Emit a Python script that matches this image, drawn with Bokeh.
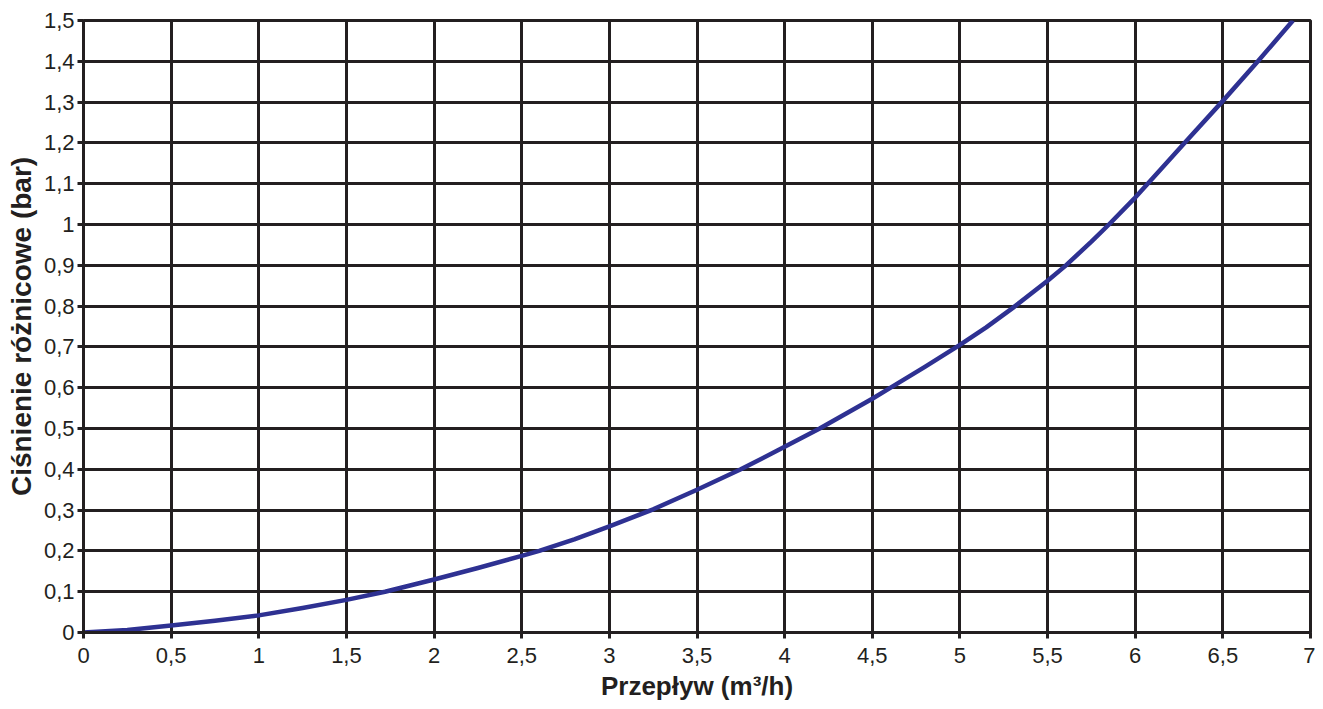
from bokeh.plotting import figure
from bokeh.models import FixedTicker, Range1d
from bokeh.embed import file_html
from bokeh.resources import INLINE

flow = [0, 0.25, 0.5, 0.75, 1, 1.25, 1.5, 1.72, 2, 2.25, 2.5, 2.6, 2.8, 3, 3.25, 3.5,
        3.75, 4, 4.2, 4.5, 4.6, 4.8, 5, 5.15, 5.3, 5.5, 5.6, 5.75, 5.85, 6, 6.15, 6.28,
        6.5, 6.7, 6.9]
pressure = [0, 0.006, 0.017, 0.029, 0.042, 0.06, 0.08, 0.1, 0.13, 0.158, 0.188, 0.2,
            0.228, 0.26, 0.302, 0.35, 0.4, 0.455, 0.5, 0.573, 0.599, 0.651, 0.705, 0.748,
            0.795, 0.862, 0.898, 0.958, 1.0, 1.066, 1.137, 1.199, 1.303, 1.4, 1.5]

x_ticks = [i * 0.5 for i in range(15)]
y_ticks = [i / 10 for i in range(16)]

def fmt(v):
    s = ("%g" % round(v, 2))
    return s.replace(".", ",")

x_labels = {t: fmt(t) for t in x_ticks}
y_labels = {t: fmt(t) for t in y_ticks}

GRID = "#231f20"
CURVE = "#2e3192"
FONT = "Liberation Sans"

p = figure(width=1315, height=704, output_backend="svg", toolbar_location=None,
           x_range=Range1d(0, 7), y_range=Range1d(0, 1.5),
           min_border_left=83, min_border_right=5, min_border_top=20, min_border_bottom=72)

p.line(flow, pressure, line_color=CURVE, line_width=4.5, line_join="round")

p.outline_line_color = GRID
p.outline_line_width = 3
p.outline_line_alpha = 1

for ax, ticks, labels in ((p.xaxis[0], x_ticks, x_labels), (p.yaxis[0], y_ticks, y_labels)):
    ax.ticker = FixedTicker(ticks=ticks)
    ax.major_label_overrides = labels
    ax.minor_tick_line_color = None
    ax.major_tick_in = 0
    ax.major_tick_out = 6
    ax.major_tick_line_width = 3
    ax.major_tick_line_color = GRID
    ax.axis_line_color = GRID
    ax.axis_line_width = 3
    ax.major_label_text_font = FONT
    ax.major_label_text_font_size = "22px"
    ax.major_label_text_color = "#231f20"
    ax.axis_label_text_font = FONT
    ax.axis_label_text_font_style = "bold"
    ax.axis_label_text_color = "#231f20"

p.xaxis.axis_label_text_font_size = "26px"
p.yaxis.axis_label_text_font_size = "28px"
p.xaxis.axis_label = "Przepływ (m³/h)"
p.yaxis.axis_label = "Ciśnienie różnicowe (bar)"
p.xaxis.major_label_standoff = 9
p.yaxis.major_label_standoff = 3
p.xaxis.axis_label_standoff = 5
p.yaxis.axis_label_standoff = 4

for g, ticks in ((p.xgrid[0], x_ticks), (p.ygrid[0], y_ticks)):
    g.ticker = FixedTicker(ticks=ticks)
    g.grid_line_color = GRID
    g.grid_line_width = 3
    g.grid_line_alpha = 1

p.background_fill_color = "white"
p.border_fill_color = "white"

open("out.html", "w").write(file_html(p, INLINE))
